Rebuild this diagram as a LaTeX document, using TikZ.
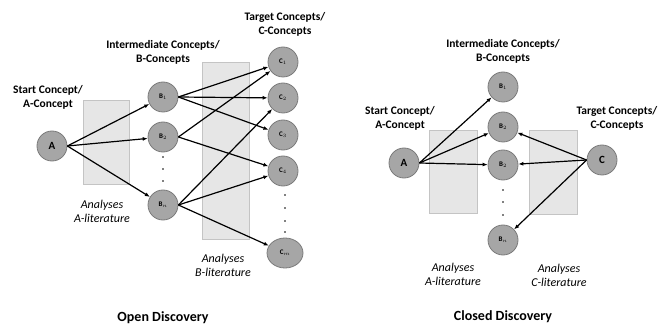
\documentclass[tikz,border=0pt]{standalone}
\usepackage{fontspec}
\setmainfont{Carlito}
\usetikzlibrary{arrows.meta,shapes.geometric}
\definecolor{circfill}{HTML}{A6A6A6}
\definecolor{circline}{HTML}{7A7A7A}
\definecolor{rectfill}{HTML}{E6E6E6}
\definecolor{rectline}{HTML}{C4C4C4}
\begin{document}
\begin{tikzpicture}[x=1pt,y=-1pt,
  concept/.style={circle,draw=circline,fill=circfill,line width=0.8pt,minimum size=30pt,inner sep=0pt,font=\bfseries\fontsize{7}{8}\selectfont},
  bigconcept/.style={concept,font=\bfseries\fontsize{11}{12}\selectfont},
  ellconcept/.style={ellipse,draw=circline,fill=circfill,line width=0.8pt,minimum width=36pt,minimum height=30pt,inner sep=0pt,font=\bfseries\fontsize{7}{8}\selectfont},
  litbox/.style={draw=rectline,fill=rectfill,line width=0.8pt},
  head/.style={align=center,font=\bfseries\fontsize{11.5}{14}\selectfont},
  lit/.style={align=center,font=\itshape\fontsize{12}{14}\selectfont},
  title/.style={font=\bfseries\fontsize{14}{16}\selectfont},
  arr/.style={line width=1.2pt,-{Latex[length=5pt,width=4pt]}},
  dot/.style={circle,fill=black,inner sep=0pt,minimum size=1.6pt}
]
\useasboundingbox (0,0) rectangle (659,326);
% ---------- Open discovery ----------
\draw[litbox] (83,100) rectangle (129,184);
\draw[litbox] (202,62) rectangle (249,239);
\node[bigconcept] (oA) at (52,146) {A};
\node[concept] (oB1) at (163,97) {B$_1$};
\node[concept] (oB2) at (163,137) {B$_2$};
\node[concept] (oBn) at (163,205) {B$_n$};
\node[concept] (oC1) at (283,62) {C$_1$};
\node[concept] (oC2) at (283,98) {C$_2$};
\node[concept] (oC3) at (283,135) {C$_3$};
\node[concept] (oC4) at (283,171) {C$_4$};
\node[ellconcept] (oCm) at (285,253) {C$_m$};
\foreach \y [count=\i] in {157,169,181} \node[dot] (obd\i) at (163,\y) {};
\foreach \y [count=\i] in {195,208,221,232} \node[dot] (ocd\i) at (285,\y) {};
\draw[arr] (oA.east) -- (oB1);
\draw[arr] (oA.east) -- (oB2);
\draw[arr] (oA.east) -- (oBn);
\draw[arr] (oB1.east) -- (oC1);
\draw[arr] (oB1.east) -- (oC2);
\draw[arr] (oB1.east) -- (oC3);
\draw[arr] (oB2.east) -- (oC1);
\draw[arr] (oB2.east) -- (oC4);
\draw[arr] (oBn.east) -- (oC2);
\draw[arr] (oBn.east) -- (oC4);
\draw[arr] (oBn.east) -- (oCm);
\node[head] (oAh) at (48,97) {Start Concept/\\A-Concept};
\node[head] (oBh) at (163,52) {Intermediate Concepts/\\B-Concepts};
\node[head] (oCh) at (285,24) {Target Concepts/\\C-Concepts};
\node[lit] (oAl) at (102,211) {Analyses\\A-literature};
\node[lit] (oBl) at (223,265) {Analyses\\B-literature};
\node[title] (oT) at (163,318) {Open Discovery};
% ---------- Closed discovery ----------
\draw[litbox] (429,130) rectangle (477,213);
\draw[litbox] (529,130) rectangle (577,214);
\node[bigconcept] (cA) at (404,163) {A};
\node[concept] (cB1) at (503,87) {B$_1$};
\node[concept] (cB2) at (503,127) {B$_2$};
\node[concept] (cB3) at (503,165) {B$_2$};
\node[concept] (cBn) at (503,240) {B$_n$};
\node[bigconcept] (cC) at (602,160) {C};
\foreach \y [count=\i] in {190,202,215} \node[dot] (cbd\i) at (503,\y) {};
\draw[arr] (cA.east) -- (cB1);
\draw[arr] (cA.east) -- (cB2);
\draw[arr] (cA.east) -- (cB3);
\draw[arr] (cC.west) -- (cB2);
\draw[arr] (cC.west) -- (cB3);
\draw[arr] (cC.west) -- (cBn);
\node[head] (cAh) at (400,118) {Start Concept/\\A-Concept};
\node[head] (cBh) at (503,51) {Intermediate Concepts/\\B-Concepts};
\node[head] (cCh) at (617,118) {Target Concepts/\\C-Concepts};
\node[lit] (cAl) at (453,274) {Analyses\\A-literature};
\node[lit] (cCl) at (559,275) {Analyses\\C-literature};
\node[title] (cT) at (503,317) {Closed Discovery};
\end{tikzpicture}
\end{document}
